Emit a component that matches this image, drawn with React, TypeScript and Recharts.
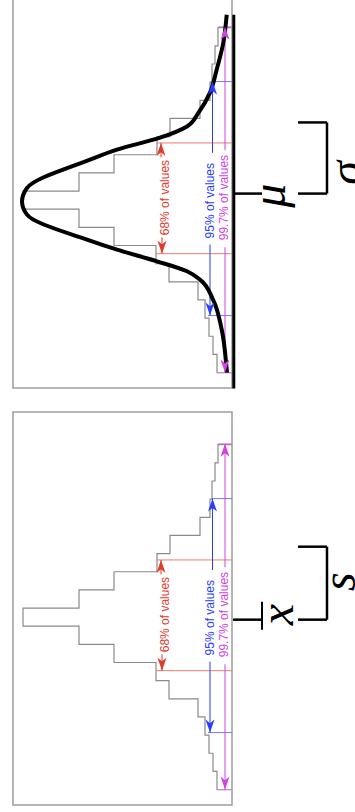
import React from 'react';
import { ComposedChart, Line, XAxis, YAxis, ReferenceLine, ReferenceArea, ReferenceDot } from 'recharts';

// histogram bins (same sample in both panels), x in bin units, 0 = centre
const binEdges = [-9.5, -8.5, -7.5, -6.5, -5.5, -4.5, -3.5, -2.5, -1.5, -0.5, 0.5, 1.5, 2.5, 3.5, 4.5, 5.5, 6.5, 7.5, 8.5, 9.5];
const binCounts = [15, 19, 23, 27, 34, 63, 76, 118, 153, 209, 153, 118, 75, 62, 32, 22, 20, 17, 14];

// fitted curve (top panel only)
const curveX = [-9.5, -9.33, -7.13, -5.48, -4.38, -3.92, -3.37, -2.73, -2.18, -0.8, -0.07, 0.67, 2.23, 2.78, 3.44, 4.06, 4.8, 5.92, 7.19, 8.67, 10.21];
const curveY = [5, 5.3, 10.3, 19, 32, 45, 75, 115, 145, 205, 210, 205, 142, 115, 72, 45, 33.7, 22, 15.3, 8.7, 5.3];

// the three ranges
const rangeLabels = ['68% of values', '95% of values', '99.7% of values'];
const rangeLow = [-2.95, -6.36, -9.5];
const rangeHigh = [3.15, 6.53, 9.55];
const rangeTickLow = [76, 24, 15];
const rangeTickHigh = [75, 20, 14];
const rangeArrowLow = [70, 22, 7];
const rangeArrowHigh = [71, 19.5, 7];
const rangeGapLow = [-2.05, -2.45, -2.6];
const rangeGapHigh = [2.35, 2.6, 2.75];
const rangeTextY = [62.7, 18, 4.5];
const rangeTextX = [0.14, -0.03, 0.14];
const rangeColors = ['#e23a2b', '#2a3cff', '#cf43e0'];
const rangeLineColors = ['#f07a6e', '#6f7cff', '#e07cec'];

const histData = [
  { x: binEdges[0], y: 0 },
  ...binCounts.map((c, i) => ({ x: binEdges[i], y: c })),
  { x: binEdges[binEdges.length - 1], y: 0 },
];
const curveData = curveX.map((x, i) => ({ x, y: curveY[i] }));

const W = 404;
const H = 355;
const MARGIN = { top: 13, right: 4, bottom: 123, left: 7 };
const X_DOMAIN = [-10.35, 11.3];
const Y_DOMAIN = [0, 219];

const arrowHead = (color: string, dir: number) => (p: any) => {
  const { cx, cy } = p;
  const len = 13;
  const half = 4.5;
  const b = cx - dir * len;
  const n = cx - dir * len * 0.72;
  return <path d={`M${cx},${cy}L${b},${cy - half}L${n},${cy}L${b},${cy + half}Z`} fill={color} />;
};

const textShape = (txt: string, color: string, size: number, serif: boolean) => (p: any) => (
  <text
    x={p.cx}
    y={p.cy}
    textAnchor="middle"
    fill={color}
    fontSize={size}
    fontFamily={serif ? '"Liberation Serif", serif' : '"Liberation Sans", Arial, sans-serif'}
    fontStyle={serif ? 'italic' : 'normal'}
  >
    {txt}
  </text>
);

interface PanelProps {
  top: number;
  withCurve: boolean;
  centreSymbol: string;
  centreAt: number;
  symbolAt: number;
  symbolBase: number;
  bracketTo: number;
  spreadSymbol: string;
  spreadAt: number;
  spreadBase: number;
  bar: boolean;
}

function Panel(props: PanelProps) {
  const k = 'black';
  return (
    <div
      style={{
        position: 'absolute',
        left: 0,
        top: props.top,
        width: W,
        height: H,
        transformOrigin: '0 0',
        transform: 'rotate(-90deg)',
      }}
    >
      <ComposedChart width={W} height={H} margin={MARGIN}>
        <XAxis type="number" dataKey="x" domain={X_DOMAIN} allowDataOverflow hide />
        <YAxis type="number" domain={Y_DOMAIN} allowDataOverflow hide />
        <ReferenceArea x1={X_DOMAIN[0]} x2={X_DOMAIN[1]} y1={Y_DOMAIN[0]} y2={Y_DOMAIN[1]} fill="none" stroke="#9d9d9d" strokeWidth={1.5} ifOverflow="visible" />

        <Line data={histData} dataKey="y" type="stepAfter" stroke="#8a8a8a" strokeWidth={1.2} dot={false} activeDot={false} isAnimationActive={false} />

        {rangeLabels.map((lab, i) => (
          <React.Fragment key={lab}>
            <ReferenceLine segment={[{ x: rangeLow[i], y: 0 }, { x: rangeLow[i], y: rangeTickLow[i] }]} stroke={rangeLineColors[i]} strokeWidth={1} ifOverflow="visible" />
            <ReferenceLine segment={[{ x: rangeHigh[i], y: 0 }, { x: rangeHigh[i], y: rangeTickHigh[i] }]} stroke={rangeLineColors[i]} strokeWidth={1} ifOverflow="visible" />
            <ReferenceLine segment={[{ x: rangeLow[i], y: rangeArrowLow[i] }, { x: rangeGapLow[i], y: rangeArrowLow[i] }]} stroke={rangeColors[i]} strokeWidth={1} ifOverflow="visible" />
            <ReferenceLine segment={[{ x: rangeGapHigh[i], y: rangeArrowHigh[i] }, { x: rangeHigh[i], y: rangeArrowHigh[i] }]} stroke={rangeColors[i]} strokeWidth={1} ifOverflow="visible" />
            <ReferenceDot x={rangeLow[i]} y={rangeArrowLow[i]} ifOverflow="visible" shape={arrowHead(rangeColors[i], -1)} />
            <ReferenceDot x={rangeHigh[i]} y={rangeArrowHigh[i]} ifOverflow="visible" shape={arrowHead(rangeColors[i], 1)} />
            <ReferenceDot x={rangeTextX[i]} y={rangeTextY[i]} ifOverflow="visible" shape={textShape(lab, rangeColors[i], 12, false)} />
          </React.Fragment>
        ))}

        {props.withCurve && (
          <ReferenceLine segment={[{ x: -10.38, y: -1.8 }, { x: 10.21, y: -1.8 }]} stroke={k} strokeWidth={3} ifOverflow="visible" />
        )}
        {props.withCurve && (
          <Line data={curveData} dataKey="y" type="monotone" stroke={k} strokeWidth={4} dot={false} activeDot={false} isAnimationActive={false} />
        )}

        {/* centre marker + label */}
        <ReferenceLine segment={[{ x: props.centreAt, y: -1 }, { x: props.centreAt, y: -30 }]} stroke={k} strokeWidth={2.5} ifOverflow="visible" />
        {props.bar && (
          <ReferenceLine segment={[{ x: -0.69, y: -30 }, { x: 0.85, y: -30 }]} stroke={k} strokeWidth={2} ifOverflow="visible" />
        )}
        <ReferenceDot x={props.symbolAt} y={props.symbolBase} ifOverflow="visible" shape={textShape(props.centreSymbol, k, 48, true)} />

        {/* spread bracket */}
        <ReferenceLine segment={[{ x: props.centreAt, y: -66 }, { x: props.centreAt, y: -95 }]} stroke={k} strokeWidth={2.5} ifOverflow="visible" />
        <ReferenceLine segment={[{ x: props.centreAt, y: -95 }, { x: props.bracketTo, y: -95 }]} stroke={k} strokeWidth={2.5} ifOverflow="visible" />
        <ReferenceLine segment={[{ x: props.bracketTo, y: -95 }, { x: props.bracketTo, y: -66 }]} stroke={k} strokeWidth={2.5} ifOverflow="visible" />
        <ReferenceDot x={props.spreadAt} y={props.spreadBase} ifOverflow="visible" shape={textShape(props.spreadSymbol, k, 48, true)} />
      </ComposedChart>
    </div>
  );
}

export default function App() {
  return (
    <div style={{ position: 'absolute', left: 0, top: 0, width: 355, height: 812, overflow: 'hidden', background: '#fff' }}>
      <Panel
        top={395}
        withCurve
        centreSymbol="μ"
        centreAt={0.36}
        symbolAt={0.25}
        symbolBase={-52.5}
        bracketTo={4.28}
        spreadSymbol="σ"
        spreadAt={1.5}
        spreadBase={-130}
        bar={false}
      />
      <Panel
        top={812}
        withCurve={false}
        centreSymbol="x"
        centreAt={-0.14}
        symbolAt={0.14}
        symbolBase={-61}
        bracketTo={3.88}
        spreadSymbol="s"
        spreadAt={1.95}
        spreadBase={-123}
        bar
      />
    </div>
  );
}
